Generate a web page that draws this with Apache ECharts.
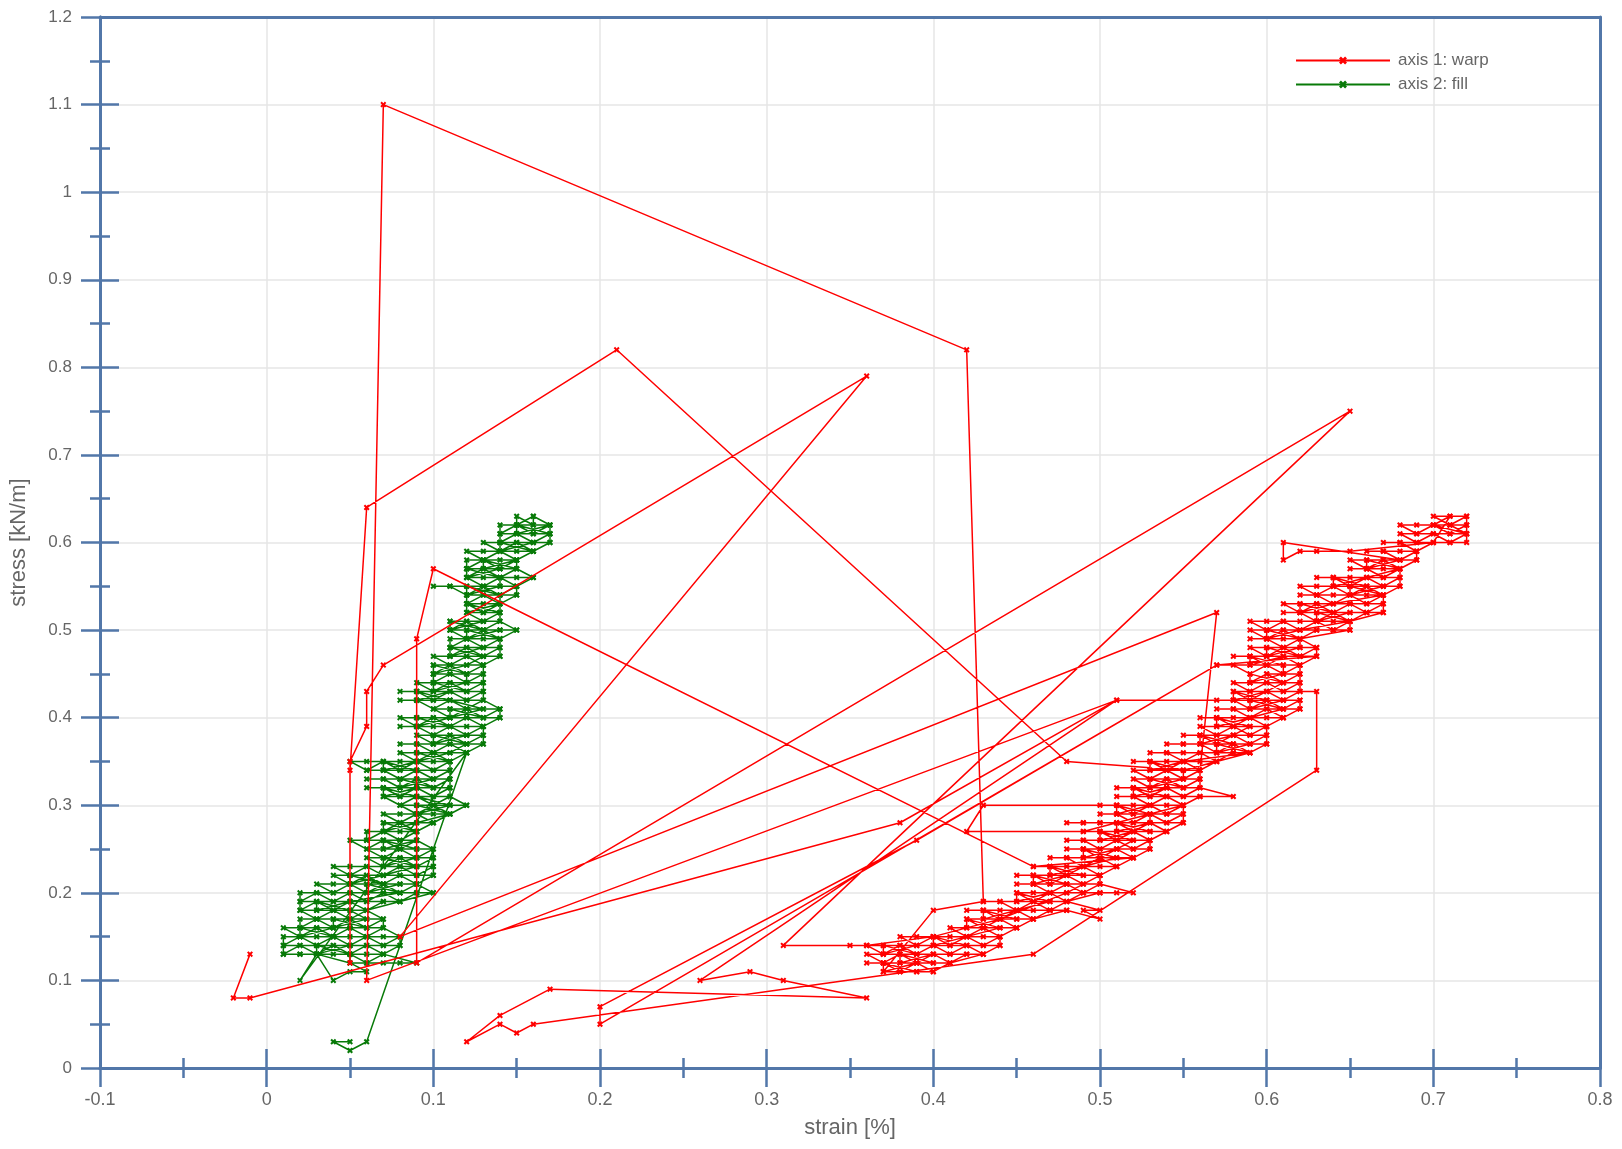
<!DOCTYPE html>
<html>
<head>
<meta charset="utf-8">
<script src="https://cdn.jsdelivr.net/npm/echarts@6/dist/echarts.min.js"></script>
<style>html,body{margin:0;padding:0;background:#fff;}#c{width:1622px;height:1149px;}</style>
</head>
<body>
<div id="c"></div>
<script>
// ---- data: [strain, stress], both written in hundredths (strain 0.01 %, stress 0.01 kN/m) ----
const seriesNames = ['axis 1: warp', 'axis 2: fill'];

const warpHundredths = [
[-1,13],[-2,8],[-1,8],[38,28],[51,42],[6,10],[7,110],[42,82],[43,19],[40,18],
[37,11],[38,11],[39,11],[40,11],
[41,12],[40,11],[39,12],[38,11],[37,12],[36,12],
[37,12],[38,12],[39,12],[40,12],[41,12],
[43,13],[42,13],[41,12],[40,13],[39,12],[38,13],[37,12],[36,13],
[37,13],[38,13],[39,13],[40,13],[41,13],[42,13],[43,13],
[44,14],[43,13],[42,14],[41,13],[40,14],[39,13],[38,14],[37,13],[36,14],[35,14],
[36,14],[37,14],[38,14],[39,14],[40,14],[41,14],[42,14],[43,14],[44,14],
[44,15],[43,14],[42,15],[41,14],[40,15],[39,14],[38,15],
[39,15],[40,15],[41,15],[42,15],[43,15],[44,15],
[45,16],[44,15],[43,16],[42,15],[41,16],
[42,16],[43,16],[44,16],[45,16],
[46,17],[45,16],[44,17],[43,16],[42,17],
[43,17],[44,17],[45,17],[46,17],
[48,18],[47,18],[46,17],[45,18],[44,17],[43,18],[42,18],
[43,18],[44,18],[45,18],[46,18],[47,18],[48,18],[50,17],[49,18],[50,18],
[48,19],[47,18],[46,19],[45,18],[44,19],[43,19],
[44,19],[45,19],[46,19],[47,19],[48,19],
[50,20],[49,20],[48,19],[47,20],[46,19],[45,20],
[46,20],[47,20],[48,20],[49,20],[50,20],[51,20],[52,20],
[50,21],[49,20],[48,21],[47,20],[46,21],[45,21],
[46,21],[47,21],[48,21],[49,21],[50,21],
[50,22],[49,21],[48,22],[47,21],[46,22],[45,22],
[46,22],[47,22],[48,22],[49,22],[50,22],
[51,23],[50,22],[49,23],[48,22],[47,23],[46,23],
[47,23],[48,23],[49,23],[50,23],[51,23],
[52,24],[51,23],[50,24],[49,23],[48,24],[47,24],
[48,24],[49,24],[50,24],[51,24],[52,24],
[46,23],[10,57],[9,49],[9,12],[65,75],[31,14],[36,14],[40,15],[44,17],[48,20],[52,24],
[53,25],[52,24],[51,25],[50,24],[49,25],[48,25],
[49,25],[50,25],[51,25],[52,25],[53,25],
[53,26],[52,25],[51,26],[50,25],[49,26],[48,26],
[49,26],[50,26],[51,26],[52,26],[53,26],
[54,27],[53,26],[52,27],[51,26],[50,27],[49,27],
[50,27],[51,27],[52,27],[53,27],[54,27],
[55,28],[54,27],[53,28],[52,27],[51,28],[50,28],[49,28],[48,28],
[49,28],[50,28],[51,28],[52,28],[53,28],[54,28],[55,28],
[55,29],[54,28],[53,29],[52,28],[51,29],[50,29],
[51,29],[52,29],[53,29],[54,29],[55,29],
[55,30],[54,29],[53,30],[52,29],[51,30],[50,30],
[51,30],[52,30],[53,30],[54,30],[55,30],
[43,30],[42,27],[49,27],[55,30],
[56,31],[55,30],[54,31],[53,30],[52,31],[51,31],
[52,31],[53,31],[54,31],[55,31],[56,31],[58,31],
[56,32],[55,31],[54,32],[53,31],[52,32],[51,32],
[52,32],[53,32],[54,32],[55,32],[56,32],
[56,33],[55,32],[54,33],[53,32],[52,33],
[53,33],[54,33],[55,33],[56,33],
[56,34],[55,33],[54,34],[53,33],[52,34],
[53,34],[54,34],[55,34],[56,34],
[57,52],[8,15],[36,79],[7,46],[6,43],[6,39],[5,35],[5,12],[5,34],[6,64],[21,82],[48,35],[55,34],
[57,35],[56,34],[55,35],[54,34],[53,35],[52,35],
[53,35],[54,35],[55,35],[56,35],[57,35],
[59,36],[58,36],[57,35],[56,36],[55,35],[54,36],[53,36],
[54,36],[55,36],[56,36],[57,36],[58,36],[59,36],
[60,37],[59,36],[58,37],[57,36],[56,37],[55,37],[54,37],
[55,37],[56,37],[57,37],[58,37],[59,37],[60,37],
[60,38],[59,37],[58,38],[57,37],[56,38],[55,38],
[56,38],[57,38],[58,38],[59,38],[60,38],
[60,39],[59,38],[58,39],[57,38],[56,39],
[57,39],[58,39],[59,39],[60,39],
[61,40],[60,39],[59,40],[58,39],[57,40],[56,40],
[57,40],[58,40],[59,40],[60,40],[61,40],
[62,41],[61,40],[60,41],[59,40],[58,41],[57,41],
[58,41],[59,41],[60,41],[61,41],[62,41],
[62,42],[61,41],[60,42],[59,41],[58,42],[57,42],
[58,42],[59,42],[60,42],[61,42],[62,42],
[51,42],[26,10],[29,11],[31,10],[36,8],[17,9],[14,6],[12,3],[14,5],[15,4],[16,5],[46,13],[63,34],[63,43],
[62,43],[61,42],[60,43],[59,42],[58,43],
[59,43],[60,43],[61,43],[62,43],
[62,44],[61,43],[60,44],[59,43],[58,44],
[59,44],[60,44],[61,44],[62,44],
[62,45],[61,44],[60,45],[59,44],
[60,45],[61,45],[62,45],
[62,46],[61,45],[60,46],[59,45],[58,46],
[59,46],[60,46],[61,46],[62,46],
[57,46],[20,5],[20,7],[39,26],[57,46],
[63,47],[62,46],[61,47],[60,46],[59,47],[58,47],
[59,47],[60,47],[61,47],[62,47],[63,47],
[63,48],[62,47],[61,48],[60,47],[59,48],
[60,48],[61,48],[62,48],[63,48],
[62,49],[61,48],[60,49],[59,49],
[60,49],[61,49],[62,49],
[65,50],[64,50],[63,50],[62,49],[61,50],[60,49],[59,50],
[60,50],[61,50],[62,50],[63,50],[64,50],[65,50],
[65,51],[64,50],[63,51],[62,50],[61,51],[60,50],[59,51],
[60,51],[61,51],[62,51],[63,51],[64,51],[65,51],
[67,52],[66,52],[65,51],[64,52],[63,51],[62,52],[61,52],
[62,52],[63,52],[64,52],[65,52],[66,52],[67,52],
[67,53],[66,52],[65,53],[64,52],[63,53],[62,52],[61,53],
[62,53],[63,53],[64,53],[65,53],[66,53],[67,53],
[67,54],[66,53],[65,54],[64,53],[63,54],[62,54],
[63,54],[64,54],[65,54],[66,54],[67,54],
[68,55],[67,54],[66,55],[65,54],[64,55],[63,54],[62,55],
[63,55],[64,55],[65,55],[66,55],[67,55],[68,55],
[68,56],[67,55],[66,56],[65,55],[64,56],[63,56],
[64,56],[65,56],[66,56],[67,56],[68,56],
[68,57],[67,56],[66,57],[65,57],
[66,57],[67,57],[68,57],
[69,58],[68,57],[67,58],[66,57],[65,58],
[66,58],[67,58],[68,58],[69,58],
[69,59],[68,58],[67,59],[66,59],
[67,59],[68,59],[69,59],
[70,60],[69,59],[68,60],[67,60],
[68,60],[69,60],[70,60],[71,60],[72,60],
[72,61],[71,60],[70,61],[69,60],[68,61],
[69,61],[70,61],[71,61],[72,61],
[72,62],[71,61],[70,62],[69,61],[68,62],
[69,62],[70,62],[71,62],[72,62],
[72,63],[71,62],[70,63],
[71,63],[72,63],[71,62],[72,61],[70,62],[71,63],[70,60],
[65,59],[63,59],[62,59],[61,58],[61,60],
[68,58],[66,57],[66,58],[68,57],
[66,56],[64,55],[64,56],[66,55],
[67,55],[65,54],[65,55],[67,54],
[64,53],[62,52],[62,53],[64,52],
[65,52],[63,51],[63,52],[65,51],
[62,50],[60,49],[60,50],[62,49],
[62,48],[60,47],[60,48],[62,47],
[61,47],[59,46],[59,47],[61,46],
[61,45],[59,44],[59,45],[61,44],
[60,43],[58,42],[58,43],[60,42],
[61,42],[59,41],[59,42],[61,41],
[59,40],[57,39],[57,40],[59,39],
[58,38],[56,37],[56,38],[58,37],
[59,37],[57,36],[57,37],[59,36],
[55,35],[53,34],[53,35],[55,34],
[55,33],[53,32],[53,33],[55,32],
[54,32],[52,31],[52,32],[54,31],
[53,30],[51,29],[51,30],[53,29],
[53,28],[51,27],[51,28],[53,27],
[52,27],[50,26],[50,27],[52,26],
[51,25],[49,24],[49,25],[51,24],
[49,23],[47,22],[47,23],[49,22],
[48,22],[46,21],[46,22],[48,21],
[47,20],[45,19],[45,20],[47,19],
[45,18],[43,17],[43,18],[45,17],
[44,17],[42,16],[42,17],[44,16],
[42,15],[40,14],[40,15],[42,14],
[39,14],[37,13],[37,14],[39,13],
[40,13],[38,12],[38,13],[40,12],
[39,12],[37,11],[37,12],[39,11]
];

const fillHundredths = [
[5,3],[4,3],[5,2],[6,3],[12,36],[2,10],[3,13],[4,10],[5,11],[6,11],
[5,12],[6,12],[7,12],[8,12],[9,12],
[7,13],[6,12],[5,13],[5,12],[3,13],[2,13],[1,13],
[2,13],[3,13],[4,13],[5,13],[6,13],[7,13],
[8,14],[7,13],[6,14],[5,13],[4,14],[3,13],[2,14],[1,13],[1,14],
[2,14],[3,14],[4,14],[5,14],[6,14],[7,14],[8,14],
[8,15],[7,14],[6,15],[5,14],[4,15],[3,14],[2,15],[1,14],[1,15],
[2,15],[3,15],[4,15],[5,15],[6,15],[7,15],[8,15],
[7,16],[6,15],[5,16],[4,15],[3,16],[2,15],[1,16],
[2,16],[3,16],[4,16],[5,16],[6,16],[7,16],
[7,17],[6,16],[5,17],[4,16],[3,17],[2,16],[2,17],
[3,17],[4,17],[5,17],[6,17],[7,17],
[6,18],[5,17],[4,18],[3,17],[2,18],
[3,18],[4,18],[5,18],[6,18],
[8,19],[7,19],[6,18],[5,19],[4,18],[3,19],[2,18],[2,19],
[3,19],[4,19],[5,19],[6,19],[7,19],[8,19],
[10,20],[9,20],[8,19],[7,20],[6,19],[5,20],[4,19],[3,20],[2,19],[2,20],
[3,20],[4,20],[5,20],[6,20],[7,20],[8,20],[9,20],[10,20],
[9,21],[8,20],[7,21],[6,20],[5,21],[4,20],[3,21],
[4,21],[5,21],[6,21],[7,21],[8,21],[9,21],
[10,22],[9,21],[8,22],[7,21],[6,22],[5,21],[4,22],
[5,22],[6,22],[7,22],[8,22],[9,22],[10,22],
[10,23],[9,22],[8,23],[7,22],[6,23],[5,22],[4,23],
[5,23],[6,23],[7,23],[8,23],[9,23],[10,23],
[10,24],[9,23],[8,24],[7,23],[6,24],
[7,24],[8,24],[9,24],[10,24],
[10,25],[9,24],[8,25],[7,24],[6,25],
[7,25],[8,25],[9,25],[10,25],
[9,26],[8,25],[7,26],[6,25],[5,26],
[6,26],[7,26],[8,26],[9,26],
[9,27],[8,26],[7,27],[6,26],[6,27],
[7,27],[8,27],[9,27],
[10,28],[9,27],[8,28],[7,27],[7,28],
[8,28],[9,28],[10,28],
[11,29],[10,28],[9,29],[8,28],[7,29],
[8,29],[9,29],[10,29],[11,29],
[12,30],[11,29],[10,30],[9,29],[8,30],
[9,30],[10,30],[11,30],[12,30],
[11,31],[10,30],[9,31],[8,30],[7,31],
[8,31],[9,31],[10,31],[11,31],
[11,32],[10,31],[9,32],[8,31],[7,32],[6,32],
[7,32],[8,32],[9,32],[10,32],[11,32],
[11,33],[10,32],[9,33],[8,32],[7,33],[6,33],
[7,33],[8,33],[9,33],[10,33],[11,33],
[11,34],[10,33],[9,34],[8,33],[7,34],[6,34],
[7,34],[8,34],[9,34],[10,34],[11,34],
[11,35],[10,34],[9,35],[8,34],[7,35],[6,34],[5,35],
[6,35],[7,35],[8,35],[9,35],[10,35],[11,35],
[12,36],[11,35],[10,36],[9,35],[8,36],
[9,36],[10,36],[11,36],[12,36],
[13,37],[12,36],[11,37],[10,36],[9,37],[8,37],
[9,37],[10,37],[11,37],[12,37],[13,37],
[13,38],[12,37],[11,38],[10,37],[9,38],
[10,38],[11,38],[12,38],[13,38],
[13,39],[12,38],[11,39],[10,38],[9,39],[8,39],
[9,39],[10,39],[11,39],[12,39],[13,39],
[14,40],[13,39],[12,40],[11,39],[10,40],[9,39],[8,40],
[9,40],[10,40],[11,40],[12,40],[13,40],[14,40],
[14,41],[13,40],[12,41],[11,40],[10,41],
[11,41],[12,41],[13,41],[14,41],
[13,42],[12,41],[11,42],[10,41],[9,42],[8,42],
[9,42],[10,42],[11,42],[12,42],[13,42],
[13,43],[12,42],[11,43],[10,42],[9,43],[8,43],
[9,43],[10,43],[11,43],[12,43],[13,43],
[13,44],[12,43],[11,44],[10,43],[9,44],
[10,44],[11,44],[12,44],[13,44],
[13,45],[12,44],[11,45],[10,44],[10,45],
[11,45],[12,45],[13,45],
[13,46],[12,45],[11,46],[10,45],[10,46],
[11,46],[12,46],[13,46],
[14,47],[13,46],[12,47],[11,46],[10,47],
[11,47],[12,47],[13,47],[14,47],
[14,48],[13,47],[12,48],[11,47],[11,48],
[12,48],[13,48],[14,48],
[14,49],[13,48],[12,49],[11,48],[11,49],
[12,49],[13,49],[14,49],
[15,50],[14,49],[13,50],[12,49],[11,50],
[12,50],[13,50],[14,50],[15,50],
[14,51],[13,50],[12,51],[11,50],[11,51],
[12,51],[13,51],[14,51],
[14,52],[13,51],[12,52],
[13,52],[14,52],
[14,53],[13,52],[12,53],
[13,53],[14,53],
[15,54],[14,53],[13,54],[12,53],[12,54],
[13,54],[14,54],[15,54],
[15,55],[14,54],[13,55],[12,54],[11,55],[10,55],
[11,55],[12,55],[13,55],[14,55],[15,55],
[16,56],[15,55],[14,56],[13,55],[12,56],
[13,56],[14,56],[15,56],[16,56],
[15,57],[14,56],[13,57],[12,56],[12,57],
[13,57],[14,57],[15,57],
[15,58],[14,57],[13,58],[12,57],[12,58],
[13,58],[14,58],[15,58],
[16,59],[15,58],[14,59],[13,58],[12,59],
[13,59],[14,59],[15,59],[16,59],
[17,60],[16,59],[15,60],[14,59],[13,60],
[14,60],[15,60],[16,60],[17,60],
[17,61],[16,60],[15,61],[14,60],[14,61],
[15,61],[16,61],[17,61],
[17,62],[16,61],[15,62],[14,61],[14,62],
[15,62],[16,62],[17,62],
[16,63],[15,62],[15,63],[16,62],[16,63],
[17,62],[15,61],[15,62],[17,61],
[16,60],[14,59],[14,60],[16,59],
[15,58],[13,57],[13,58],[15,57],
[14,57],[12,56],[12,57],[14,56],
[14,55],[12,54],[12,55],[14,54],
[14,53],[12,52],[12,53],[14,52],
[13,51],[11,50],[11,51],[13,50],
[14,50],[12,49],[12,50],[14,49],
[13,48],[11,47],[11,48],[13,47],
[12,46],[10,45],[10,46],[12,45],
[12,44],[10,43],[10,44],[12,43],
[11,43],[9,42],[9,43],[11,42],
[13,41],[11,40],[11,41],[13,40],
[11,40],[9,39],[9,40],[11,39],
[12,38],[10,37],[10,38],[12,37],
[11,36],[9,35],[9,36],[11,35],
[9,35],[7,34],[7,35],[9,34],
[10,33],[8,32],[8,33],[10,32],
[9,32],[7,31],[7,32],[9,31],
[11,30],[9,29],[9,30],[11,29],
[9,28],[7,27],[7,28],[9,27],
[9,26],[7,25],[7,26],[9,25],
[9,24],[7,23],[7,24],[9,23],
[7,22],[5,21],[5,22],[7,21],
[8,21],[6,20],[6,21],[8,20],
[5,19],[3,18],[3,19],[5,18],
[6,17],[4,16],[4,17],[6,16],
[4,16],[2,15],[2,16],[4,15],
[5,14],[3,13],[3,14],[5,13]
];

// convert hundredths to chart units
const warpData = warpHundredths.map(p => [p[0] / 100, p[1] / 100]);
const fillData = fillHundredths.map(p => [p[0] / 100, p[1] / 100]);

// ---- styling ----
const AX = '#5277a9';
const TXT = '#666666';
const FONT = '"Liberation Sans", Arial, sans-serif';
const XMARK = 'path://M0,2.4L2.4,0L5,2.6L7.6,0L10,2.4L7.4,5L10,7.6L7.6,10L5,7.4L2.4,10L0,7.6L2.6,5Z';

const xBase = {type: 'value', min: -0.1, max: 0.8, interval: 0.1};
const yBase = {type: 'value', min: 0, max: 1.2, interval: 0.1};

function tickAxis(base, pos, inside, labels, extra) {
  return Object.assign({}, base, {
    position: pos,
    axisLine: {show: true, onZero: false, lineStyle: {color: AX, width: 3}},
    axisTick: {show: true, inside: inside, length: 19, lineStyle: {color: AX, width: 2.5}},
    minorTick: {show: true, splitNumber: 2, length: 10, lineStyle: {color: AX, width: 2.5}},
    axisLabel: {show: labels, color: TXT, fontSize: 17, fontFamily: FONT},
    splitLine: {show: false}
  }, extra || {});
}

const chart = echarts.init(document.getElementById('c'), null, {renderer: 'canvas'});
chart.setOption({
  animation: false,
  backgroundColor: '#ffffff',
  grid: {left: 96, right: 22, top: 17, bottom: 81, containLabel: false},
  legend: {
    data: seriesNames,
    orient: 'vertical',
    left: 1290, top: 47,
    itemWidth: 94, itemHeight: 10, itemGap: 7,
    textStyle: {color: TXT, fontSize: 17, fontFamily: FONT, padding: [0, 0, 0, 3]}
  },
  xAxis: [
    tickAxis(xBase, 'bottom', false, true, {
      name: 'strain [%]', nameLocation: 'middle', nameGap: 49,
      nameTextStyle: {color: TXT, fontSize: 22, fontFamily: FONT},
      axisLabel: {show: true, color: TXT, fontSize: 18, fontFamily: FONT, margin: 23},
      splitLine: {show: true, lineStyle: {color: '#e6e6e6', width: 1.5}}
    }),
    tickAxis(xBase, 'bottom', true, false),
    Object.assign({}, xBase, {position: 'top', axisLine: {show: true, onZero: false, lineStyle: {color: AX, width: 3}},
      axisTick: {show: false}, axisLabel: {show: false}, splitLine: {show: false}})
  ],
  yAxis: [
    tickAxis(yBase, 'left', false, true, {
      name: 'stress [kN/m]', nameLocation: 'middle', nameGap: 70,
      nameTextStyle: {color: TXT, fontSize: 22, fontFamily: FONT},
      axisLabel: {show: true, color: TXT, fontSize: 17, fontFamily: FONT, margin: 28},
      splitLine: {show: true, lineStyle: {color: '#e6e6e6', width: 1.5}}
    }),
    tickAxis(yBase, 'left', true, false),
    Object.assign({}, yBase, {position: 'right', axisLine: {show: true, onZero: false, lineStyle: {color: AX, width: 3}},
      axisTick: {show: false}, axisLabel: {show: false}, splitLine: {show: false}})
  ],
  series: [
    {
      name: seriesNames[0], type: 'line', xAxisIndex: 0, yAxisIndex: 0, z: 4,
      data: warpData, showAllSymbol: true, symbol: XMARK, symbolSize: 6,
      lineStyle: {color: '#ff0000', width: 1.5}, itemStyle: {color: '#ff0000'},
      emphasis: {disabled: true}
    },
    {
      name: seriesNames[1], type: 'line', xAxisIndex: 0, yAxisIndex: 0, z: 3,
      data: fillData, showAllSymbol: true, symbol: XMARK, symbolSize: 6,
      lineStyle: {color: '#087a08', width: 1.5}, itemStyle: {color: '#087a08'},
      emphasis: {disabled: true}
    }
  ]
});
</script>
</body>
</html>
